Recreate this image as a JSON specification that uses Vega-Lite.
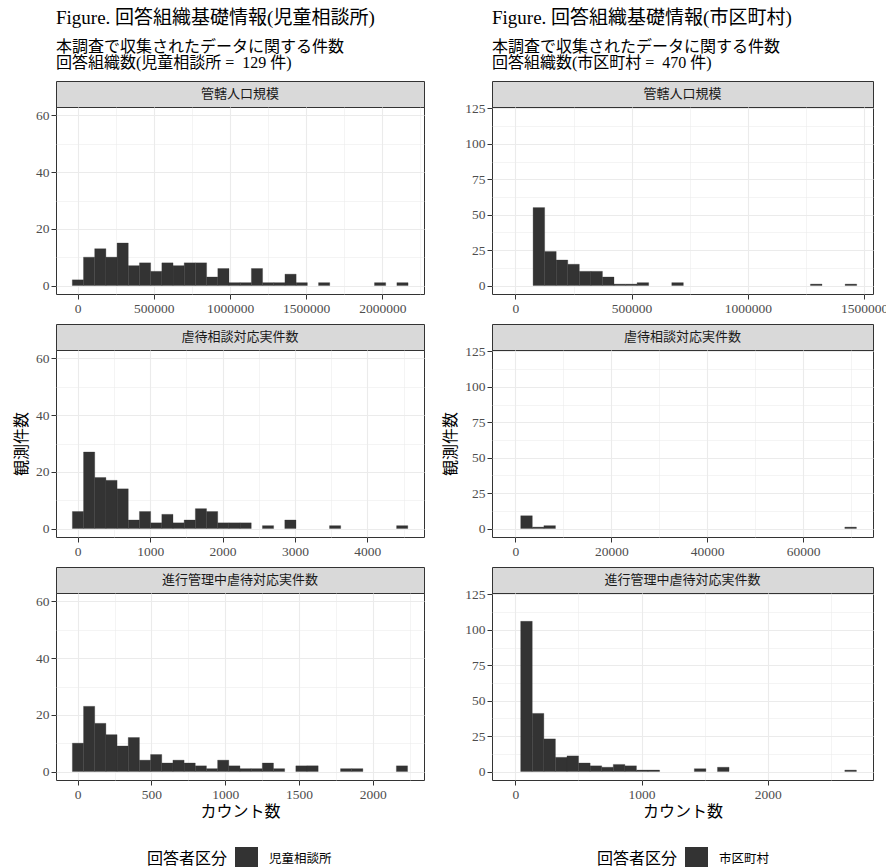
{
  "$schema": "https://vega.github.io/schema/vega-lite/v6.json",
  "background": "white",
  "padding": {"left": 13, "top": 9, "right": 0, "bottom": 0},
  "config": {
    "font": "Liberation Serif, Noto Sans CJK JP",
    "view": {"stroke": "#333333", "strokeWidth": 1},
    "axis": {
      "domain": false,
      "grid": true,
      "gridColor": "#ebebeb",
      "tickColor": "#333333",
      "tickSize": 5,
      "labelColor": "#4d4d4d",
      "labelFontSize": 13.5,
      "labelPadding": 2,
      "labelFont": "Liberation Serif, Noto Sans CJK JP",
      "labelFlush": false,
      "labelOverlap": false,
      "labelBound": false,
      "titleFont": "Liberation Serif, Noto Sans CJK JP",
      "titleFontSize": 16,
      "titleFontWeight": "normal",
      "titleColor": "black"
    },
    "legend": {
      "titleFont": "Liberation Serif, Noto Sans CJK JP",
      "labelFont": "Liberation Serif, Noto Sans CJK JP",
      "titleFontSize": 16,
      "titleFontWeight": "normal",
      "titleColor": "black",
      "labelFontSize": 12.5,
      "labelColor": "black",
      "labelOffset": 11,
      "symbolType": "square",
      "symbolSize": 529,
      "symbolStrokeWidth": 0,
      "symbolOpacity": 1,
      "direction": "horizontal",
      "titleOrient": "left",
      "titleAnchor": "middle",
      "titleBaseline": "middle",
      "titlePadding": 7
    },
    "title": {
      "font": "Liberation Serif, Noto Sans CJK JP",
      "subtitleFont": "Liberation Serif, Noto Sans CJK JP",
      "fontSize": 19,
      "fontWeight": "normal",
      "color": "black",
      "subtitleFontSize": 16,
      "subtitleLineHeight": 15.5,
      "subtitleColor": "black",
      "subtitlePadding": 11,
      "anchor": "start",
      "frame": "group",
      "offset": 10
    }
  },
  "datasets": {
    "h": [
      {"o": "児童相談所", "v": "管轄人口規模", "lo": -35000, "hi": 38450, "n": 2},
      {"o": "児童相談所", "v": "管轄人口規模", "lo": 38450, "hi": 111900, "n": 10},
      {"o": "児童相談所", "v": "管轄人口規模", "lo": 111900, "hi": 185350, "n": 13},
      {"o": "児童相談所", "v": "管轄人口規模", "lo": 185350, "hi": 258800, "n": 10},
      {"o": "児童相談所", "v": "管轄人口規模", "lo": 258800, "hi": 332250, "n": 15},
      {"o": "児童相談所", "v": "管轄人口規模", "lo": 332250, "hi": 405700, "n": 7},
      {"o": "児童相談所", "v": "管轄人口規模", "lo": 405700, "hi": 479150, "n": 8},
      {"o": "児童相談所", "v": "管轄人口規模", "lo": 479150, "hi": 552600, "n": 5},
      {"o": "児童相談所", "v": "管轄人口規模", "lo": 552600, "hi": 626050, "n": 8},
      {"o": "児童相談所", "v": "管轄人口規模", "lo": 626050, "hi": 699500, "n": 7},
      {"o": "児童相談所", "v": "管轄人口規模", "lo": 699500, "hi": 772950, "n": 8},
      {"o": "児童相談所", "v": "管轄人口規模", "lo": 772950, "hi": 846400, "n": 8},
      {"o": "児童相談所", "v": "管轄人口規模", "lo": 846400, "hi": 919850, "n": 3},
      {"o": "児童相談所", "v": "管轄人口規模", "lo": 919850, "hi": 993300, "n": 6},
      {"o": "児童相談所", "v": "管轄人口規模", "lo": 993300, "hi": 1066750, "n": 1},
      {"o": "児童相談所", "v": "管轄人口規模", "lo": 1066750, "hi": 1140200, "n": 1},
      {"o": "児童相談所", "v": "管轄人口規模", "lo": 1140200, "hi": 1213650, "n": 6},
      {"o": "児童相談所", "v": "管轄人口規模", "lo": 1213650, "hi": 1287100, "n": 1},
      {"o": "児童相談所", "v": "管轄人口規模", "lo": 1287100, "hi": 1360550, "n": 1},
      {"o": "児童相談所", "v": "管轄人口規模", "lo": 1360550, "hi": 1434000, "n": 4},
      {"o": "児童相談所", "v": "管轄人口規模", "lo": 1434000, "hi": 1507450, "n": 1},
      {"o": "児童相談所", "v": "管轄人口規模", "lo": 1580900, "hi": 1654350, "n": 1},
      {"o": "児童相談所", "v": "管轄人口規模", "lo": 1948150, "hi": 2021600, "n": 1},
      {"o": "児童相談所", "v": "管轄人口規模", "lo": 2095050, "hi": 2168500, "n": 1},

      {"o": "児童相談所", "v": "虐待相談対応実件数", "lo": -74, "hi": 80.4, "n": 6},
      {"o": "児童相談所", "v": "虐待相談対応実件数", "lo": 80.4, "hi": 234.8, "n": 27},
      {"o": "児童相談所", "v": "虐待相談対応実件数", "lo": 234.8, "hi": 389.2, "n": 18},
      {"o": "児童相談所", "v": "虐待相談対応実件数", "lo": 389.2, "hi": 543.6, "n": 17},
      {"o": "児童相談所", "v": "虐待相談対応実件数", "lo": 543.6, "hi": 698, "n": 14},
      {"o": "児童相談所", "v": "虐待相談対応実件数", "lo": 698, "hi": 852.4, "n": 3},
      {"o": "児童相談所", "v": "虐待相談対応実件数", "lo": 852.4, "hi": 1006.8, "n": 6},
      {"o": "児童相談所", "v": "虐待相談対応実件数", "lo": 1006.8, "hi": 1161.2, "n": 2},
      {"o": "児童相談所", "v": "虐待相談対応実件数", "lo": 1161.2, "hi": 1315.6, "n": 5},
      {"o": "児童相談所", "v": "虐待相談対応実件数", "lo": 1315.6, "hi": 1470, "n": 2},
      {"o": "児童相談所", "v": "虐待相談対応実件数", "lo": 1470, "hi": 1624.4, "n": 3},
      {"o": "児童相談所", "v": "虐待相談対応実件数", "lo": 1624.4, "hi": 1778.8, "n": 7},
      {"o": "児童相談所", "v": "虐待相談対応実件数", "lo": 1778.8, "hi": 1933.2, "n": 6},
      {"o": "児童相談所", "v": "虐待相談対応実件数", "lo": 1933.2, "hi": 2087.6, "n": 2},
      {"o": "児童相談所", "v": "虐待相談対応実件数", "lo": 2087.6, "hi": 2242, "n": 2},
      {"o": "児童相談所", "v": "虐待相談対応実件数", "lo": 2242, "hi": 2396.4, "n": 2},
      {"o": "児童相談所", "v": "虐待相談対応実件数", "lo": 2550.8, "hi": 2705.2, "n": 1},
      {"o": "児童相談所", "v": "虐待相談対応実件数", "lo": 2859.6, "hi": 3014, "n": 3},
      {"o": "児童相談所", "v": "虐待相談対応実件数", "lo": 3477.2, "hi": 3631.6, "n": 1},
      {"o": "児童相談所", "v": "虐待相談対応実件数", "lo": 4403.6, "hi": 4558, "n": 1},

      {"o": "児童相談所", "v": "進行管理中虐待対応実件数", "lo": -36, "hi": 39.75, "n": 10},
      {"o": "児童相談所", "v": "進行管理中虐待対応実件数", "lo": 39.75, "hi": 115.5, "n": 23},
      {"o": "児童相談所", "v": "進行管理中虐待対応実件数", "lo": 115.5, "hi": 191.25, "n": 17},
      {"o": "児童相談所", "v": "進行管理中虐待対応実件数", "lo": 191.25, "hi": 267, "n": 13},
      {"o": "児童相談所", "v": "進行管理中虐待対応実件数", "lo": 267, "hi": 342.75, "n": 9},
      {"o": "児童相談所", "v": "進行管理中虐待対応実件数", "lo": 342.75, "hi": 418.5, "n": 12},
      {"o": "児童相談所", "v": "進行管理中虐待対応実件数", "lo": 418.5, "hi": 494.25, "n": 4},
      {"o": "児童相談所", "v": "進行管理中虐待対応実件数", "lo": 494.25, "hi": 570, "n": 6},
      {"o": "児童相談所", "v": "進行管理中虐待対応実件数", "lo": 570, "hi": 645.75, "n": 3},
      {"o": "児童相談所", "v": "進行管理中虐待対応実件数", "lo": 645.75, "hi": 721.5, "n": 4},
      {"o": "児童相談所", "v": "進行管理中虐待対応実件数", "lo": 721.5, "hi": 797.25, "n": 3},
      {"o": "児童相談所", "v": "進行管理中虐待対応実件数", "lo": 797.25, "hi": 873, "n": 2},
      {"o": "児童相談所", "v": "進行管理中虐待対応実件数", "lo": 873, "hi": 948.75, "n": 1},
      {"o": "児童相談所", "v": "進行管理中虐待対応実件数", "lo": 948.75, "hi": 1024.5, "n": 4},
      {"o": "児童相談所", "v": "進行管理中虐待対応実件数", "lo": 1024.5, "hi": 1100.25, "n": 2},
      {"o": "児童相談所", "v": "進行管理中虐待対応実件数", "lo": 1100.25, "hi": 1176, "n": 1},
      {"o": "児童相談所", "v": "進行管理中虐待対応実件数", "lo": 1176, "hi": 1251.75, "n": 1},
      {"o": "児童相談所", "v": "進行管理中虐待対応実件数", "lo": 1251.75, "hi": 1327.5, "n": 3},
      {"o": "児童相談所", "v": "進行管理中虐待対応実件数", "lo": 1327.5, "hi": 1403.25, "n": 1},
      {"o": "児童相談所", "v": "進行管理中虐待対応実件数", "lo": 1479, "hi": 1554.75, "n": 2},
      {"o": "児童相談所", "v": "進行管理中虐待対応実件数", "lo": 1554.75, "hi": 1630.5, "n": 2},
      {"o": "児童相談所", "v": "進行管理中虐待対応実件数", "lo": 1782, "hi": 1857.75, "n": 1},
      {"o": "児童相談所", "v": "進行管理中虐待対応実件数", "lo": 1857.75, "hi": 1933.5, "n": 1},
      {"o": "児童相談所", "v": "進行管理中虐待対応実件数", "lo": 2160.75, "hi": 2236.5, "n": 2},

      {"o": "市区町村", "v": "管轄人口規模", "lo": 76100, "hi": 125830, "n": 55},
      {"o": "市区町村", "v": "管轄人口規模", "lo": 125830, "hi": 175560, "n": 24},
      {"o": "市区町村", "v": "管轄人口規模", "lo": 175560, "hi": 225290, "n": 18},
      {"o": "市区町村", "v": "管轄人口規模", "lo": 225290, "hi": 275020, "n": 15},
      {"o": "市区町村", "v": "管轄人口規模", "lo": 275020, "hi": 324750, "n": 10},
      {"o": "市区町村", "v": "管轄人口規模", "lo": 324750, "hi": 374480, "n": 10},
      {"o": "市区町村", "v": "管轄人口規模", "lo": 374480, "hi": 424210, "n": 6},
      {"o": "市区町村", "v": "管轄人口規模", "lo": 424210, "hi": 473940, "n": 1},
      {"o": "市区町村", "v": "管轄人口規模", "lo": 473940, "hi": 523670, "n": 1},
      {"o": "市区町村", "v": "管轄人口規模", "lo": 523670, "hi": 573400, "n": 2},
      {"o": "市区町村", "v": "管轄人口規模", "lo": 672860, "hi": 722590, "n": 2},
      {"o": "市区町村", "v": "管轄人口規模", "lo": 1269620, "hi": 1319350, "n": 1},
      {"o": "市区町村", "v": "管轄人口規模", "lo": 1418810, "hi": 1468540, "n": 1},

      {"o": "市区町村", "v": "虐待相談対応実件数", "lo": 1112, "hi": 3526, "n": 9},
      {"o": "市区町村", "v": "虐待相談対応実件数", "lo": 3526, "hi": 5940, "n": 1},
      {"o": "市区町村", "v": "虐待相談対応実件数", "lo": 5940, "hi": 8354, "n": 2},
      {"o": "市区町村", "v": "虐待相談対応実件数", "lo": 68704, "hi": 71118, "n": 1},

      {"o": "市区町村", "v": "進行管理中虐待対応実件数", "lo": 42.3, "hi": 134.03, "n": 106},
      {"o": "市区町村", "v": "進行管理中虐待対応実件数", "lo": 134.03, "hi": 225.76, "n": 41},
      {"o": "市区町村", "v": "進行管理中虐待対応実件数", "lo": 225.76, "hi": 317.49, "n": 23},
      {"o": "市区町村", "v": "進行管理中虐待対応実件数", "lo": 317.49, "hi": 409.22, "n": 10},
      {"o": "市区町村", "v": "進行管理中虐待対応実件数", "lo": 409.22, "hi": 500.95, "n": 11},
      {"o": "市区町村", "v": "進行管理中虐待対応実件数", "lo": 500.95, "hi": 592.68, "n": 6},
      {"o": "市区町村", "v": "進行管理中虐待対応実件数", "lo": 592.68, "hi": 684.41, "n": 4},
      {"o": "市区町村", "v": "進行管理中虐待対応実件数", "lo": 684.41, "hi": 776.14, "n": 3},
      {"o": "市区町村", "v": "進行管理中虐待対応実件数", "lo": 776.14, "hi": 867.87, "n": 5},
      {"o": "市区町村", "v": "進行管理中虐待対応実件数", "lo": 867.87, "hi": 959.6, "n": 4},
      {"o": "市区町村", "v": "進行管理中虐待対応実件数", "lo": 959.6, "hi": 1051.33, "n": 1},
      {"o": "市区町村", "v": "進行管理中虐待対応実件数", "lo": 1051.33, "hi": 1143.06, "n": 1},
      {"o": "市区町村", "v": "進行管理中虐待対応実件数", "lo": 1418.25, "hi": 1509.98, "n": 2},
      {"o": "市区町村", "v": "進行管理中虐待対応実件数", "lo": 1601.71, "hi": 1693.44, "n": 3},
      {"o": "市区町村", "v": "進行管理中虐待対応実件数", "lo": 2610.74, "hi": 2702.47, "n": 1}
    ]
  },
  "resolve": {"scale": {"color": "independent"}, "legend": {"color": "independent"}},
  "spacing": 17,
  "hconcat": [
    {
      "title": {"text": "Figure. 回答組織基礎情報(児童相談所)", "subtitle": ["本調査で収集されたデータに関する件数", "回答組織数(児童相談所 =\u00a0 129 件)"]},
      "spacing": 8,
      "vconcat": [
        {
          "spacing": 0, "bounds": "flush",
          "vconcat": [
            {"width": 368, "height": 26, "data": {"values": [{"label": "管轄人口規模"}]}, "view": {"fill": "#d9d9d9", "stroke": "#333333"}, "mark": {"type": "text", "fontSize": 13, "color": "#1a1a1a"}, "encoding": {"text": {"field": "label", "type": "nominal"}}},
            {
              "width": 368, "height": 187,
              "data": {"name": "h"},
              "transform": [{"filter": "datum.o === '児童相談所' && datum.v === '管轄人口規模'"}],
              "mark": {"type": "rect", "stroke": "#333333", "strokeWidth": 0.3},
              "encoding": {
                "x": {"field": "lo", "type": "quantitative", "scale": {"domain": [-142000, 2273000], "nice": false, "zero": false},
                  "axis": {"title": null, "format": "d", "values": [0, 250000, 500000, 750000, 1000000, 1250000, 1500000, 1750000, 2000000, 2250000],
                    "labelExpr": "datum.value % 500000 === 0 ? datum.label : ''",
                    "gridWidth": {"condition": {"test": "datum.value % 500000 === 0", "value": 1.1}, "value": 0.55},
                    "tickOpacity": {"condition": {"test": "datum.value % 500000 === 0", "value": 1}, "value": 0}}},
                "x2": {"field": "hi"},
                "y": {"field": "n", "type": "quantitative", "scale": {"domain": [-3, 63], "nice": false, "zero": false},
                  "axis": {"title": null, "values": [0, 10, 20, 30, 40, 50, 60],
                    "labelExpr": "datum.value % 20 === 0 ? datum.label : ''",
                    "gridWidth": {"condition": {"test": "datum.value % 20 === 0", "value": 1.1}, "value": 0.55},
                    "tickOpacity": {"condition": {"test": "datum.value % 20 === 0", "value": 1}, "value": 0}}},
                "y2": {"datum": 0},
                "color": {"field": "o", "type": "nominal", "scale": {"range": ["#333333"]}, "legend": {"title": "回答者区分", "orient": "none", "legendX": 91, "legendY": 766}}
              }
            }
          ]
        },
        {
          "spacing": 0, "bounds": "flush",
          "vconcat": [
            {"width": 368, "height": 26, "data": {"values": [{"label": "虐待相談対応実件数"}]}, "view": {"fill": "#d9d9d9", "stroke": "#333333"}, "mark": {"type": "text", "fontSize": 13, "color": "#1a1a1a"}, "encoding": {"text": {"field": "label", "type": "nominal"}}},
            {
              "width": 368, "height": 187,
              "data": {"name": "h"},
              "transform": [{"filter": "datum.o === '児童相談所' && datum.v === '虐待相談対応実件数'"}],
              "mark": {"type": "rect", "stroke": "#333333", "strokeWidth": 0.3},
              "encoding": {
                "x": {"field": "lo", "type": "quantitative", "scale": {"domain": [-300, 4782], "nice": false, "zero": false},
                  "axis": {"title": null, "format": "d", "values": [0, 500, 1000, 1500, 2000, 2500, 3000, 3500, 4000, 4500],
                    "labelExpr": "datum.value % 1000 === 0 ? datum.label : ''",
                    "gridWidth": {"condition": {"test": "datum.value % 1000 === 0", "value": 1.1}, "value": 0.55},
                    "tickOpacity": {"condition": {"test": "datum.value % 1000 === 0", "value": 1}, "value": 0}}},
                "x2": {"field": "hi"},
                "y": {"field": "n", "type": "quantitative", "scale": {"domain": [-3, 63], "nice": false, "zero": false},
                  "axis": {"title": "観測件数", "titlePadding": 6, "values": [0, 10, 20, 30, 40, 50, 60],
                    "labelExpr": "datum.value % 20 === 0 ? datum.label : ''",
                    "gridWidth": {"condition": {"test": "datum.value % 20 === 0", "value": 1.1}, "value": 0.55},
                    "tickOpacity": {"condition": {"test": "datum.value % 20 === 0", "value": 1}, "value": 0}}},
                "y2": {"datum": 0},
                "color": {"field": "o", "type": "nominal", "scale": {"range": ["#333333"]}, "legend": {"title": "回答者区分", "orient": "none", "legendX": 91, "legendY": 766}}
              }
            }
          ]
        },
        {
          "spacing": 0, "bounds": "flush",
          "vconcat": [
            {"width": 368, "height": 26, "data": {"values": [{"label": "進行管理中虐待対応実件数"}]}, "view": {"fill": "#d9d9d9", "stroke": "#333333"}, "mark": {"type": "text", "fontSize": 13, "color": "#1a1a1a"}, "encoding": {"text": {"field": "label", "type": "nominal"}}},
            {
              "width": 368, "height": 187,
              "data": {"name": "h"},
              "transform": [{"filter": "datum.o === '児童相談所' && datum.v === '進行管理中虐待対応実件数'"}],
              "mark": {"type": "rect", "stroke": "#333333", "strokeWidth": 0.3},
              "encoding": {
                "x": {"field": "lo", "type": "quantitative", "scale": {"domain": [-147, 2348], "nice": false, "zero": false},
                  "axis": {"title": "カウント数", "titlePadding": 3, "format": "d", "values": [0, 250, 500, 750, 1000, 1250, 1500, 1750, 2000, 2250],
                    "labelExpr": "datum.value % 500 === 0 ? datum.label : ''",
                    "gridWidth": {"condition": {"test": "datum.value % 500 === 0", "value": 1.1}, "value": 0.55},
                    "tickOpacity": {"condition": {"test": "datum.value % 500 === 0", "value": 1}, "value": 0}}},
                "x2": {"field": "hi"},
                "y": {"field": "n", "type": "quantitative", "scale": {"domain": [-3, 63], "nice": false, "zero": false},
                  "axis": {"title": null, "values": [0, 10, 20, 30, 40, 50, 60],
                    "labelExpr": "datum.value % 20 === 0 ? datum.label : ''",
                    "gridWidth": {"condition": {"test": "datum.value % 20 === 0", "value": 1.1}, "value": 0.55},
                    "tickOpacity": {"condition": {"test": "datum.value % 20 === 0", "value": 1}, "value": 0}}},
                "y2": {"datum": 0},
                "color": {"field": "o", "type": "nominal", "scale": {"range": ["#333333"]}, "legend": {"title": "回答者区分", "orient": "none", "legendX": 91, "legendY": 766}}
              }
            }
          ]
        }
      ]
    },
    {
      "title": {"text": "Figure. 回答組織基礎情報(市区町村)", "subtitle": ["本調査で収集されたデータに関する件数", "回答組織数(市区町村 =\u00a0 470 件)"]},
      "spacing": 8,
      "vconcat": [
        {
          "spacing": 0, "bounds": "flush",
          "vconcat": [
            {"width": 381, "height": 26, "data": {"values": [{"label": "管轄人口規模"}]}, "view": {"fill": "#d9d9d9", "stroke": "#333333"}, "mark": {"type": "text", "fontSize": 13, "color": "#1a1a1a"}, "encoding": {"text": {"field": "label", "type": "nominal"}}},
            {
              "width": 381, "height": 187,
              "data": {"name": "h"},
              "transform": [{"filter": "datum.o === '市区町村' && datum.v === '管轄人口規模'"}],
              "mark": {"type": "rect", "stroke": "#333333", "strokeWidth": 0.3},
              "encoding": {
                "x": {"field": "lo", "type": "quantitative", "scale": {"domain": [-100700, 1538700], "nice": false, "zero": false},
                  "axis": {"title": null, "format": "d", "values": [0, 250000, 500000, 750000, 1000000, 1250000, 1500000],
                    "labelExpr": "datum.value % 500000 === 0 ? datum.label : ''",
                    "gridWidth": {"condition": {"test": "datum.value % 500000 === 0", "value": 1.1}, "value": 0.55},
                    "tickOpacity": {"condition": {"test": "datum.value % 500000 === 0", "value": 1}, "value": 0}}},
                "x2": {"field": "hi"},
                "y": {"field": "n", "type": "quantitative", "scale": {"domain": [-6, 126], "nice": false, "zero": false},
                  "axis": {"title": null, "values": [0, 12.5, 25, 37.5, 50, 62.5, 75, 87.5, 100, 112.5, 125],
                    "labelExpr": "datum.value % 25 === 0 ? datum.label : ''",
                    "gridWidth": {"condition": {"test": "datum.value % 25 === 0", "value": 1.1}, "value": 0.55},
                    "tickOpacity": {"condition": {"test": "datum.value % 25 === 0", "value": 1}, "value": 0}}},
                "y2": {"datum": 0},
                "color": {"field": "o", "type": "nominal", "scale": {"range": ["#333333"]}, "legend": {"title": "回答者区分", "orient": "none", "legendX": 105, "legendY": 766}}
              }
            }
          ]
        },
        {
          "spacing": 0, "bounds": "flush",
          "vconcat": [
            {"width": 381, "height": 26, "data": {"values": [{"label": "虐待相談対応実件数"}]}, "view": {"fill": "#d9d9d9", "stroke": "#333333"}, "mark": {"type": "text", "fontSize": 13, "color": "#1a1a1a"}, "encoding": {"text": {"field": "label", "type": "nominal"}}},
            {
              "width": 381, "height": 187,
              "data": {"name": "h"},
              "transform": [{"filter": "datum.o === '市区町村' && datum.v === '虐待相談対応実件数'"}],
              "mark": {"type": "rect", "stroke": "#333333", "strokeWidth": 0.3},
              "encoding": {
                "x": {"field": "lo", "type": "quantitative", "scale": {"domain": [-4880, 74580], "nice": false, "zero": false},
                  "axis": {"title": null, "format": "d", "values": [0, 10000, 20000, 30000, 40000, 50000, 60000, 70000],
                    "labelExpr": "datum.value % 20000 === 0 ? datum.label : ''",
                    "gridWidth": {"condition": {"test": "datum.value % 20000 === 0", "value": 1.1}, "value": 0.55},
                    "tickOpacity": {"condition": {"test": "datum.value % 20000 === 0", "value": 1}, "value": 0}}},
                "x2": {"field": "hi"},
                "y": {"field": "n", "type": "quantitative", "scale": {"domain": [-6, 126], "nice": false, "zero": false},
                  "axis": {"title": "観測件数", "titlePadding": 6, "values": [0, 12.5, 25, 37.5, 50, 62.5, 75, 87.5, 100, 112.5, 125],
                    "labelExpr": "datum.value % 25 === 0 ? datum.label : ''",
                    "gridWidth": {"condition": {"test": "datum.value % 25 === 0", "value": 1.1}, "value": 0.55},
                    "tickOpacity": {"condition": {"test": "datum.value % 25 === 0", "value": 1}, "value": 0}}},
                "y2": {"datum": 0},
                "color": {"field": "o", "type": "nominal", "scale": {"range": ["#333333"]}, "legend": {"title": "回答者区分", "orient": "none", "legendX": 105, "legendY": 766}}
              }
            }
          ]
        },
        {
          "spacing": 0, "bounds": "flush",
          "vconcat": [
            {"width": 381, "height": 26, "data": {"values": [{"label": "進行管理中虐待対応実件数"}]}, "view": {"fill": "#d9d9d9", "stroke": "#333333"}, "mark": {"type": "text", "fontSize": 13, "color": "#1a1a1a"}, "encoding": {"text": {"field": "label", "type": "nominal"}}},
            {
              "width": 381, "height": 187,
              "data": {"name": "h"},
              "transform": [{"filter": "datum.o === '市区町村' && datum.v === '進行管理中虐待対応実件数'"}],
              "mark": {"type": "rect", "stroke": "#333333", "strokeWidth": 0.3},
              "encoding": {
                "x": {"field": "lo", "type": "quantitative", "scale": {"domain": [-185, 2834], "nice": false, "zero": false},
                  "axis": {"title": "カウント数", "titlePadding": 3, "format": "d", "values": [0, 500, 1000, 1500, 2000, 2500],
                    "labelExpr": "datum.value % 1000 === 0 ? datum.label : ''",
                    "gridWidth": {"condition": {"test": "datum.value % 1000 === 0", "value": 1.1}, "value": 0.55},
                    "tickOpacity": {"condition": {"test": "datum.value % 1000 === 0", "value": 1}, "value": 0}}},
                "x2": {"field": "hi"},
                "y": {"field": "n", "type": "quantitative", "scale": {"domain": [-6, 126], "nice": false, "zero": false},
                  "axis": {"title": null, "values": [0, 12.5, 25, 37.5, 50, 62.5, 75, 87.5, 100, 112.5, 125],
                    "labelExpr": "datum.value % 25 === 0 ? datum.label : ''",
                    "gridWidth": {"condition": {"test": "datum.value % 25 === 0", "value": 1.1}, "value": 0.55},
                    "tickOpacity": {"condition": {"test": "datum.value % 25 === 0", "value": 1}, "value": 0}}},
                "y2": {"datum": 0},
                "color": {"field": "o", "type": "nominal", "scale": {"range": ["#333333"]}, "legend": {"title": "回答者区分", "orient": "none", "legendX": 105, "legendY": 766}}
              }
            }
          ]
        }
      ]
    }
  ]
}
